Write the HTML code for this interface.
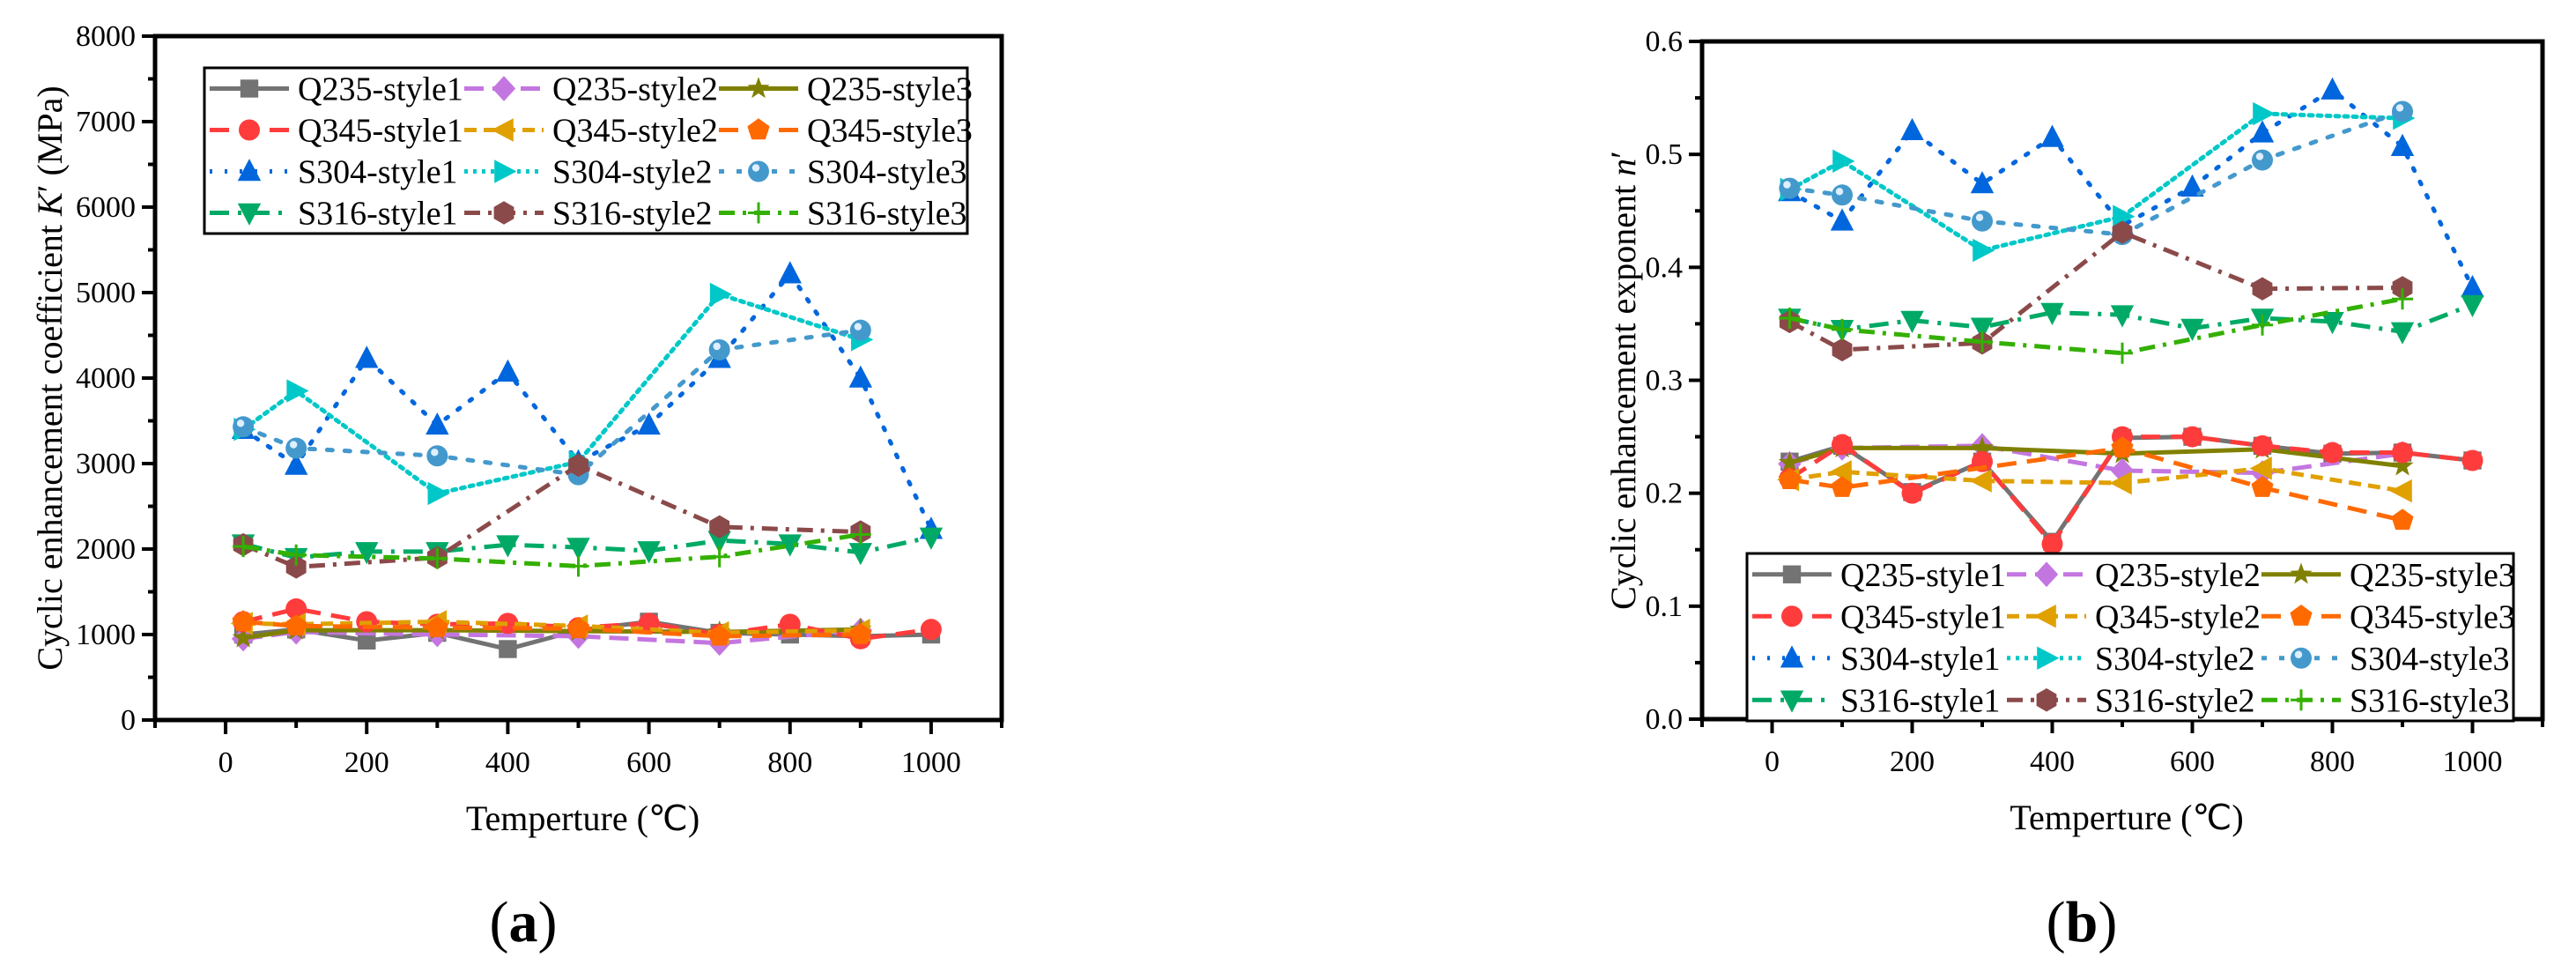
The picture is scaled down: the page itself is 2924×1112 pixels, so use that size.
<!DOCTYPE html>
<html><head><meta charset="utf-8"><style>
html,body{margin:0;padding:0;background:#fff;}
svg{display:block;}
svg text{font-family:"Liberation Serif","Times New Roman",serif;}
</style></head><body>
<svg id="fig" width="2924" height="1112" viewBox="0 0 2924 1112" xmlns="http://www.w3.org/2000/svg" font-family="Liberation Serif, serif"></svg>
<script>
const temps11 = [25,100,200,300,400,500,600,700,800,900,1000];
const temps6 = [25,100,300,500,700,900];
const temps5 = [25,100,500,700,900];
const seriesNames = ["Q235-style1","Q235-style2","Q235-style3","Q345-style1","Q345-style2","Q345-style3","S304-style1","S304-style2","S304-style3","S316-style1","S316-style2","S316-style3"];
// Panel (a) K' values
const kQ235s1 = [1000,1060,930,1020,830,1050,1150,1020,1000,980,1000];
const kQ235s2 = [950,1030,1000,980,900,1050];
const kQ235s3 = [960,1050,1050,1040,1030,1060];
const kQ345s1 = [1150,1300,1150,1120,1130,1080,1130,1000,1120,950,1060];
const kQ345s2 = [1130,1120,1150,1100,1020,1050];
const kQ345s3 = [1150,1100,1080,1070,980,1000];
const kS304s1 = [3400,2980,4230,3450,4070,3020,3450,4230,5220,4000,2230];
const kS304s2 = [3400,3850,2650,3020,4980,4450];
const kS304s3 = [3430,3180,3090,2870,4330,4560];
const kS316s1 = [2060,1900,1970,1970,2050,2020,1980,2100,2060,1960,2140];
const kS316s2 = [2050,1790,1900,2980,2260,2200];
const kS316s3 = [2030,1930,1890,1800,1910,2170];
// Panel (b) n' values
const nQ235s1 = [0.228,0.242,0.201,0.228,0.157,0.249,0.250,0.242,0.235,0.236,0.229];
const nQ235s2 = [0.226,0.240,0.242,0.220,0.218,0.235];
const nQ235s3 = [0.227,0.240,0.240,0.235,0.239,0.224];
const nQ345s1 = [0.213,0.243,0.200,0.228,0.155,0.250,0.250,0.242,0.236,0.236,0.229];
const nQ345s2 = [0.212,0.219,0.211,0.209,0.222,0.202];
const nQ345s3 = [0.212,0.205,0.240,0.205,0.176];
const nS304s1 = [0.467,0.441,0.521,0.474,0.515,0.437,0.471,0.519,0.557,0.507,0.382];
const nS304s2 = [0.469,0.494,0.415,0.445,0.536,0.532];
const nS304s3 = [0.470,0.464,0.441,0.429,0.495,0.538];
const nS316s1 = [0.355,0.345,0.353,0.347,0.360,0.358,0.346,0.355,0.352,0.343,0.367];
const nS316s2 = [0.352,0.327,0.333,0.431,0.381,0.382];
const nS316s3 = [0.355,0.345,0.334,0.324,0.349,0.372];
const xTicks = [0,200,400,600,800,1000];
const kTicks = [0,1000,2000,3000,4000,5000,6000,7000,8000];
const nTicks = [0.0,0.1,0.2,0.3,0.4,0.5,0.6];

const styles = [
 {c:"#737373",d:"",m:"square"},{c:"#c476e0",d:"22,10",m:"diamond"},{c:"#808000",d:"",m:"star"},
 {c:"#ff3c3c",d:"22,12",m:"circle"},{c:"#e0a000",d:"14,8",m:"ltri"},{c:"#ff6a00",d:"22,12",m:"pent"},
 {c:"#0066dd",d:"3,14",m:"tri"},{c:"#00c8c8",d:"4,6",m:"rtri"},{c:"#4499cc",d:"6,14",m:"ball"},
 {c:"#00aa66",d:"22,10,4,10",m:"dtri"},{c:"#8b4a4a",d:"18,9,4,9",m:"hex"},{c:"#33b000",d:"18,9,4,9",m:"plus"}];

const NS="http://www.w3.org/2000/svg";
const svg=document.getElementById('fig');
function el(tag,attrs,parent){const e=document.createElementNS(NS,tag);for(const k in attrs)e.setAttribute(k,attrs[k]);if(tag==='text')e.setAttribute('font-family','Liberation Serif, serif');(parent||svg).appendChild(e);return e;}

function marker(g,type,x,y,c,s){
  s=s||12;let e;
  if(type==="square") e=el('rect',{x:x-s*0.85,y:y-s*0.85,width:s*1.7,height:s*1.7,fill:c},g);
  else if(type==="circle") e=el('circle',{cx:x,cy:y,r:s,fill:c},g);
  else if(type==="ball"){e=el('circle',{cx:x,cy:y,r:s,fill:c},g);el('circle',{cx:x-3,cy:y-4,r:s*0.35,fill:"#dfefff"},g);}
  else if(type==="diamond") e=el('polygon',{points:`${x},${y-s*1.2} ${x+s*1.1},${y} ${x},${y+s*1.2} ${x-s*1.1},${y}`,fill:c},g);
  else if(type==="tri") e=el('polygon',{points:`${x},${y-s*1.2} ${x+s*1.1},${y+s*0.9} ${x-s*1.1},${y+s*0.9}`,fill:c},g);
  else if(type==="dtri") e=el('polygon',{points:`${x},${y+s*1.2} ${x+s*1.1},${y-s*0.9} ${x-s*1.1},${y-s*0.9}`,fill:c},g);
  else if(type==="ltri") e=el('polygon',{points:`${x-s*1.2},${y} ${x+s*0.9},${y-s*1.1} ${x+s*0.9},${y+s*1.1}`,fill:c},g);
  else if(type==="rtri") e=el('polygon',{points:`${x+s*1.2},${y} ${x-s*0.9},${y-s*1.1} ${x-s*0.9},${y+s*1.1}`,fill:c},g);
  else if(type==="pent"||type==="hex"||type==="star"){
    const n=type==="pent"?5:type==="hex"?6:10;let p=[];
    for(let i=0;i<n;i++){const a=-Math.PI/2+i*2*Math.PI/n;const r=(type==="star"&&i%2)?s*0.45:s*1.1;p.push((x+r*Math.cos(a)).toFixed(1)+","+(y+r*Math.sin(a)).toFixed(1));}
    e=el('polygon',{points:p.join(" "),fill:c},g);
  } else if(type==="plus"){e=el('path',{d:`M${x-s} ${y}H${x+s}M${x} ${y-s}V${y+s}`,stroke:c,'stroke-width':3,fill:"none"},g);}
  return e;
}

function panel(cfg){
  const g=el('g',{});
  
  
  const X=v=>cfg.x0+(v-(-100))/1200*(cfg.x1-cfg.x0);
  const Y=v=>cfg.yb-(v-cfg.ymin)/(cfg.ymax-cfg.ymin)*(cfg.yb-cfg.yt);
  cfg.series.forEach((s,i)=>{
    const st=styles[i];
    const sg=el('g',{},g);
    
    
    const pts=s.y.map((v,j)=>X(s.x[j]).toFixed(1)+","+Y(v).toFixed(1)).join(" ");
    const ln=el('polyline',{points:pts,fill:"none",stroke:st.c,'stroke-width':5,'stroke-dasharray':st.d,'stroke-linecap':st.d.startsWith("3")||st.d.startsWith("4")||st.d.startsWith("6")?"round":"butt"},sg);
    
    
    s.y.forEach((v,j)=>{const m=marker(sg,st.m,X(s.x[j]),Y(v),st.c,12);
      
      });
  });
  const fr=el('rect',{x:cfg.x0,y:cfg.yt,width:cfg.x1-cfg.x0,height:cfg.yb-cfg.yt,fill:"none",stroke:"#000",'stroke-width':5},g);
  
  
  for(let v=-100;v<=1100;v+=100){
    const major=v%200===0;
    el('line',{x1:X(v),x2:X(v),y1:cfg.yb,y2:cfg.yb+(major?16:9),stroke:"#000",'stroke-width':4},g);
  }
  xTicks.forEach(v=>{const t=el('text',{x:X(v),y:cfg.yb+59,'font-size':34,'text-anchor':"middle"},g);t.textContent=v;
    
    });
  const tk=cfg.ticks;const step=tk[1]-tk[0];
  for(let i=0;i<tk.length;i++){
    el('line',{x1:cfg.x0,x2:cfg.x0-15,y1:Y(tk[i]),y2:Y(tk[i]),stroke:"#000",'stroke-width':4},g);
    if(i<tk.length-1) el('line',{x1:cfg.x0,x2:cfg.x0-8,y1:Y(tk[i]+step/2),y2:Y(tk[i]+step/2),stroke:"#000",'stroke-width':4},g);
    const t=el('text',{x:cfg.x0-22,y:Y(tk[i])+11,'font-size':34,'text-anchor':"end"},g);t.textContent=cfg.fmt(tk[i]);
    
    
  }
  const xt=el('text',{x:(X(-100)+X(1100))/2+5,y:cfg.yb+125,'font-size':40,'text-anchor':"middle"},g);
  xt.textContent="Temperture (\u2103)";
  
  
  const yt=el('text',{x:0,y:0,'font-size':40,'text-anchor':"middle",transform:`translate(${cfg.ytx},${(cfg.yt+cfg.yb)/2}) rotate(-90)`},g);
  yt.innerHTML=cfg.ytitle;
  
  
  const lg=el('g',{},g);
  
  
  el('rect',{x:cfg.lx,y:cfg.ly,width:cfg.lw,height:cfg.lh,fill:"#fff",stroke:"#000",'stroke-width':3},lg);
  const rowH=cfg.lh/4;
  seriesNames.forEach((nm,i)=>{
    const r=Math.floor(i/3),c=i%3;const st=styles[i];
    const ex=cfg.lx+6+c*cfg.colW, ey=cfg.ly+rowH*(r+0.5);
    const e=el('g',{},lg);
    
    
    el('line',{x1:ex,x2:ex+90,y1:ey,y2:ey,stroke:st.c,'stroke-width':5,'stroke-dasharray':st.d},e);
    marker(e,st.m,ex+45,ey,st.c,12);
    const t=el('text',{x:ex+100,y:ey+13,'font-size':38},e);t.textContent=nm;
  });
  const pl=el('text',{x:cfg.plx,y:1068,'font-size':66,'text-anchor':"middle"},g);
  pl.innerHTML=cfg.plabel;
  
  
}

const kd=[kQ235s1,kQ235s2,kQ235s3,kQ345s1,kQ345s2,kQ345s3,kS304s1,kS304s2,kS304s3,kS316s1,kS316s2,kS316s3];
const nd=[nQ235s1,nQ235s2,nQ235s3,nQ345s1,nQ345s2,nQ345s3,nS304s1,nS304s2,nS304s3,nS316s1,nS316s2,nS316s3];
function xsFor(arr){if(arr.length===11)return temps11;if(arr.length===5)return temps5;return temps6;}
panel({name:'chart-a',x0:176,x1:1137,yt:41,yb:817,ymin:0,ymax:8000,ticks:kTicks,fmt:v=>String(v),
  series:kd.map(a=>({x:xsFor(a),y:a})),ytx:70,
  ytitle:'Cyclic enhancement coefficient <tspan font-style="italic">K</tspan>\u2032 (MPa)',
  lx:232,ly:77,lw:866,lh:188,colW:289,plx:594,plabel:'(<tspan font-weight="bold">a</tspan>)'});
panel({name:'chart-b',x0:1932,x1:2886,yt:47,yb:816,ymin:0,ymax:0.6,ticks:nTicks,fmt:v=>v.toFixed(1),
  series:nd.map(a=>({x:xsFor(a),y:a})),ytx:1856,
  ytitle:'Cyclic enhancement exponent <tspan font-style="italic">n</tspan>\u2032',
  lx:1983,ly:628,lw:870,lh:190,colW:289,plx:2363,plabel:'(<tspan font-weight="bold">b</tspan>)'});
</script>
</body></html>
